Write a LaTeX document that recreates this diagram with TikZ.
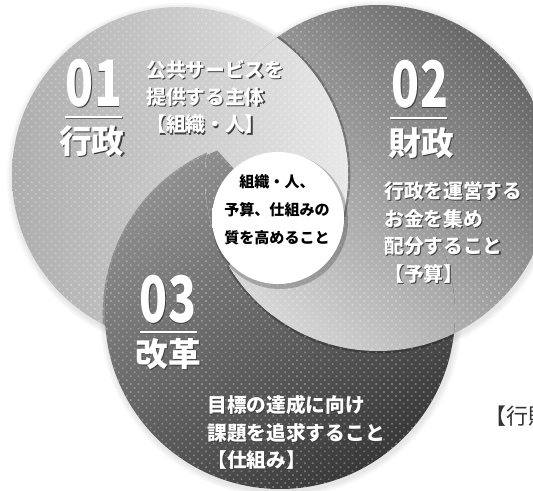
\documentclass[tikz,border=0pt]{standalone}
\usepackage{fontspec}
\setmainfont{Noto Sans CJK JP}
\usepackage{graphicx}
\usetikzlibrary{positioning, patterns.meta, calc}

% the three rings and the wedges that split their common part
\newcommand{\discA}{(cA) circle[radius=168]}
\newcommand{\discB}{(cB) circle[radius=173]}
\newcommand{\discC}{(cC) circle[radius=175]}
\newcommand{\wedgeA}{(O) -- ++(-132:400) arc[start angle=-132, end angle=3.6, radius=400] -- cycle}
\newcommand{\wedgeB}{(O) -- ++(3.6:400) arc[start angle=3.6, end angle=136, radius=400] -- cycle}
\newcommand{\wedgeC}{(O) -- ++(136:400) arc[start angle=136, end angle=228, radius=400] -- cycle}
\newcommand{\shd}[1]{\leavevmode\rlap{\kern0.9pt\raisebox{-0.9pt}{\color{black!75}#1}}#1}
\pgfdeclareradialshading{coreglow}{\pgfpoint{0bp}{0bp}}{color(0bp)=(white); color(33bp)=(white); color(44bp)=(black!8); color(50bp)=(black!26)}

\begin{document}
\begin{tikzpicture}[x=0.75pt, y=-0.75pt,
    shadeA/.style={left color=black!32, right color=black!9},
    shadeB/.style={top color=black!60, bottom color=black!16, shading angle=-45},
    shadeC/.style={top color=black!44, bottom color=black!78, shading angle=35},
    rim/.style={draw=black, line width=3.5pt, opacity=0.25},
    halftone/.style={pattern={Dots[angle=45, distance=4.2pt, radius=0.9pt]}, pattern color=white, opacity=0.28},
    num/.style={text=white, font=\fontsize{48}{48}\selectfont\bfseries, inner sep=0},
    head/.style={text=white, font=\fontsize{24.5}{24.5}\selectfont\bfseries, inner sep=0},
    body/.style={text=white, font=\fontsize{14.8}{20.6}\selectfont\bfseries, align=left, anchor=west, inner sep=0},
    core/.style={font=\fontsize{11.3}{21}\selectfont\bfseries, align=center, inner sep=0},
    bar/.style={draw=white, line width=1.6pt},
    note/.style={text=black!80, font=\fontsize{16.5}{16.5}\selectfont, anchor=west, inner sep=0}]

    \useasboundingbox (0,0) rectangle (533,491);
    \clip (0,0) rectangle (533,491);
    \fill[white] (0,0) rectangle (533,491);

    \coordinate (cA) at (180,175);
    \coordinate (cB) at (378,178);
    \coordinate (cC) at (280,314);
    \coordinate (O) at (278,218);

    % soft shadow round the rings
    \foreach \c/\r in {cA/168, cB/173, cC/175}
        \foreach \d in {2,4,6}
            \fill[black, opacity=0.03] ($(\c)+(1,2)$) circle[radius=\r+\d];

    % the rings
    \shade[shadeA] \discA;
    \shade[shadeB] \discB;
    \shade[shadeC] \discC;

    % C over A
    \begin{scope}
        \clip \discA;
        \begin{scope}\clip \wedgeC; \draw[rim] \discC; \end{scope}
        \shade[shadeC] \discC;
    \end{scope}
    % B over C
    \begin{scope}
        \clip \discC;
        \begin{scope}\clip \wedgeB; \draw[rim] \discB; \end{scope}
        \shade[shadeB] \discB;
    \end{scope}
    % A over B
    \begin{scope}
        \clip \discB;
        \begin{scope}\clip \wedgeA; \draw[rim] \discA; \end{scope}
        \shade[shadeA] \discA;
    \end{scope}
    % common part of all three
    \begin{scope}
        \clip \discA; \clip \discB; \clip \discC;
        \begin{scope}\clip \wedgeA; \shade[shadeA] \discA; \end{scope}
        \begin{scope}\clip \wedgeB; \shade[shadeB] \discB; \end{scope}
        \begin{scope}\clip \wedgeC; \shade[shadeC] \discC; \end{scope}
    \end{scope}

    % halftone dots
    \fill[halftone] \discA \discB \discC;

    % centre disc
    \fill[black, opacity=0.22] ($(O)+(2,3)$) circle[radius=68];
    \shade[shading=coreglow] (O) circle[radius=66];
    \node[core] (core_text) at (277,210) {組織・人、\\予算、仕組みの\\質を高めること};

    % 01
    \node[num] (num_one) at (94,84) {\scalebox{0.72}[1]{\shd{01}}};
    \draw[bar, draw=black!60] (66,118.2) -- (123,118.2);
    \draw[bar] (65,117) -- (122,117);
    \node[head] (head_one) at (92,142) {\shd{行政}};
    \node[body] (body_one) at (146,97.5) {\shd{公共サービスを}\\\shd{提供する主体}\\\shd{【組織・人】}};

    % 02
    \node[num] (num_two) at (420,85) {\scalebox{0.72}[1]{\shd{02}}};
    \draw[bar, draw=black!60] (391,119.2) -- (448,119.2);
    \draw[bar] (390,118) -- (447,118);
    \node[head] (head_two) at (421,144) {\shd{財政}};
    \node[body] (body_two) at (384,233) {\shd{行政を運営する}\\\shd{お金を集め}\\\shd{配分すること}\\\shd{【予算】}};

    % 03
    \node[num] (num_three) at (168,300) {\scalebox{0.72}[1]{\shd{03}}};
    \draw[bar, draw=black!60] (141,333.2) -- (198,333.2);
    \draw[bar] (140,332) -- (197,332);
    \node[head] (head_three) at (168,355) {\shd{改革}};
    \node[body] (body_three) at (207,433) {\shd{目標の達成に向け}\\\shd{課題を追求すること}\\\shd{【仕組み】}};

    \node[note] (note_text) at (484,416) {【行財};

\end{tikzpicture}
\end{document}
